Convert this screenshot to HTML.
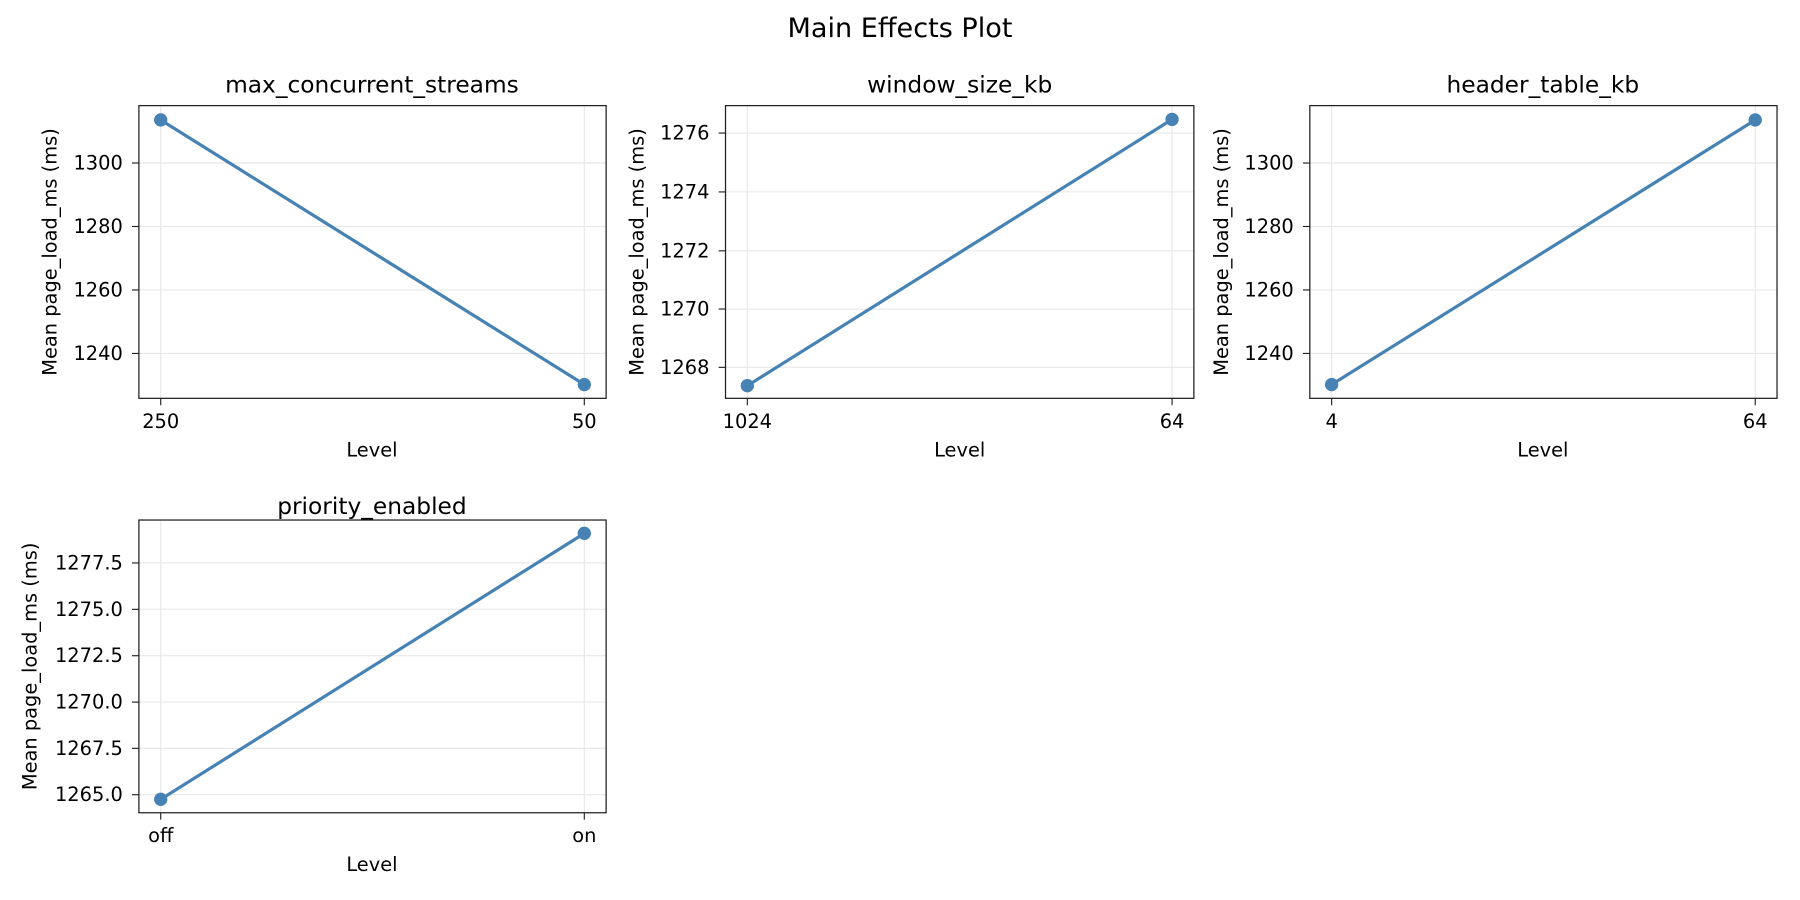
<!DOCTYPE html>
<html><head><meta charset="utf-8"><style>
html,body{margin:0;padding:0;background:#fff;}
svg{display:block;}
text{font-family:"DejaVu Sans","Liberation Sans",sans-serif;fill:#000;}
.t{font-size:16.9px;}
.tt{font-size:20.3px;}
.g{stroke:#e8e8e8;stroke-width:1;}
.ax{fill:none;stroke:#222;stroke-width:1.1;}
.ln{stroke:#4682b4;stroke-width:2.8;fill:none;}
.mk{fill:#4682b4;}
.r{text-anchor:end;dominant-baseline:central;}
.c{text-anchor:middle;dominant-baseline:central;}
</style></head><body>
<svg width="1800" height="900" viewBox="0 0 1568 784" xmlns="http://www.w3.org/2000/svg">
<text x="784" y="25" class="c" style="font-size:23.6px">Main Effects Plot</text>

<!-- ax1 -->
<g>
<line class="g" x1="140" y1="92" x2="140" y2="347"/><line class="g" x1="509" y1="92" x2="509" y2="347"/>
<line class="g" x1="121" y1="142" x2="528" y2="142"/><line class="g" x1="121" y1="197.3" x2="528" y2="197.3"/>
<line class="g" x1="121" y1="252.6" x2="528" y2="252.6"/><line class="g" x1="121" y1="307.9" x2="528" y2="307.9"/>
<rect class="ax" x="121" y="92" width="407" height="255"/>
<g stroke="#222"><line x1="115" y1="142" x2="121" y2="142"/><line x1="115" y1="197.3" x2="121" y2="197.3"/><line x1="115" y1="252.6" x2="121" y2="252.6"/><line x1="115" y1="307.9" x2="121" y2="307.9"/><line x1="140" y1="347" x2="140" y2="353"/><line x1="509" y1="347" x2="509" y2="353"/></g>
<g class="t r"><text x="107" y="142">1300</text><text x="107" y="197.3">1280</text><text x="107" y="252.6">1260</text><text x="107" y="307.9">1240</text></g>
<g class="t c"><text x="140" y="367">250</text><text x="509" y="367">50</text></g>
<text x="324" y="392" class="t c">Level</text>
<text class="t c" transform="translate(43.5,219.5) rotate(-90)">Mean page_load_ms (ms)</text>
<text x="324" y="74" class="tt c">max_concurrent_streams</text>
<line class="ln" x1="140" y1="104.5" x2="509" y2="335"/><circle class="mk" cx="140" cy="104.5" r="5.8"/><circle class="mk" cx="509" cy="335" r="5.8"/>
</g>

<!-- ax2 -->
<g>
<line class="g" x1="651" y1="92" x2="651" y2="347"/><line class="g" x1="1021" y1="92" x2="1021" y2="347"/>
<line class="g" x1="632" y1="115.9" x2="1040" y2="115.9"/><line class="g" x1="632" y1="167.2" x2="1040" y2="167.2"/><line class="g" x1="632" y1="218.5" x2="1040" y2="218.5"/><line class="g" x1="632" y1="269.2" x2="1040" y2="269.2"/><line class="g" x1="632" y1="320" x2="1040" y2="320"/>
<rect class="ax" x="632" y="92" width="408" height="255"/>
<g stroke="#222"><line x1="626" y1="115.9" x2="632" y2="115.9"/><line x1="626" y1="167.2" x2="632" y2="167.2"/><line x1="626" y1="218.5" x2="632" y2="218.5"/><line x1="626" y1="269.2" x2="632" y2="269.2"/><line x1="626" y1="320" x2="632" y2="320"/><line x1="651" y1="347" x2="651" y2="353"/><line x1="1021" y1="347" x2="1021" y2="353"/></g>
<g class="t r"><text x="618" y="115.9">1276</text><text x="618" y="167.2">1274</text><text x="618" y="218.5">1272</text><text x="618" y="269.2">1270</text><text x="618" y="320">1268</text></g>
<g class="t c"><text x="651" y="367">1024</text><text x="1021" y="367">64</text></g>
<text x="836" y="392" class="t c">Level</text>
<text class="t c" transform="translate(555,219.5) rotate(-90)">Mean page_load_ms (ms)</text>
<text x="836" y="74" class="tt c">window_size_kb</text>
<line class="ln" x1="651" y1="336" x2="1021" y2="104"/><circle class="mk" cx="651" cy="336" r="5.8"/><circle class="mk" cx="1021" cy="104" r="5.8"/>
</g>

<!-- ax3 -->
<g>
<line class="g" x1="1160" y1="92" x2="1160" y2="347"/><line class="g" x1="1529" y1="92" x2="1529" y2="347"/>
<line class="g" x1="1141" y1="142" x2="1548" y2="142"/><line class="g" x1="1141" y1="197.3" x2="1548" y2="197.3"/><line class="g" x1="1141" y1="252.6" x2="1548" y2="252.6"/><line class="g" x1="1141" y1="307.9" x2="1548" y2="307.9"/>
<rect class="ax" x="1141" y="92" width="407" height="255"/>
<g stroke="#222"><line x1="1135" y1="142" x2="1141" y2="142"/><line x1="1135" y1="197.3" x2="1141" y2="197.3"/><line x1="1135" y1="252.6" x2="1141" y2="252.6"/><line x1="1135" y1="307.9" x2="1141" y2="307.9"/><line x1="1160" y1="347" x2="1160" y2="353"/><line x1="1529" y1="347" x2="1529" y2="353"/></g>
<g class="t r"><text x="1127" y="142">1300</text><text x="1127" y="197.3">1280</text><text x="1127" y="252.6">1260</text><text x="1127" y="307.9">1240</text></g>
<g class="t c"><text x="1160" y="367">4</text><text x="1529" y="367">64</text></g>
<text x="1344" y="392" class="t c">Level</text>
<text class="t c" transform="translate(1064,219.5) rotate(-90)">Mean page_load_ms (ms)</text>
<text x="1344" y="74" class="tt c">header_table_kb</text>
<line class="ln" x1="1160" y1="335" x2="1529" y2="104.5"/><circle class="mk" cx="1160" cy="335" r="5.8"/><circle class="mk" cx="1529" cy="104.5" r="5.8"/>
</g>

<!-- ax4 -->
<g>
<line class="g" x1="140" y1="453" x2="140" y2="708"/><line class="g" x1="509" y1="453" x2="509" y2="708"/>
<line class="g" x1="121" y1="490.4" x2="528" y2="490.4"/><line class="g" x1="121" y1="530.8" x2="528" y2="530.8"/><line class="g" x1="121" y1="571.2" x2="528" y2="571.2"/><line class="g" x1="121" y1="611.6" x2="528" y2="611.6"/><line class="g" x1="121" y1="651.9" x2="528" y2="651.9"/><line class="g" x1="121" y1="692.3" x2="528" y2="692.3"/>
<rect class="ax" x="121" y="453" width="407" height="255"/>
<g stroke="#222"><line x1="115" y1="490.4" x2="121" y2="490.4"/><line x1="115" y1="530.8" x2="121" y2="530.8"/><line x1="115" y1="571.2" x2="121" y2="571.2"/><line x1="115" y1="611.6" x2="121" y2="611.6"/><line x1="115" y1="651.9" x2="121" y2="651.9"/><line x1="115" y1="692.3" x2="121" y2="692.3"/><line x1="140" y1="708" x2="140" y2="714"/><line x1="509" y1="708" x2="509" y2="714"/></g>
<g class="t r"><text x="107" y="490.4">1277.5</text><text x="107" y="530.8">1275.0</text><text x="107" y="571.2">1272.5</text><text x="107" y="611.6">1270.0</text><text x="107" y="651.9">1267.5</text><text x="107" y="692.3">1265.0</text></g>
<g class="t c"><text x="140" y="728">off</text><text x="509" y="728">on</text></g>
<text x="324" y="753" class="t c">Level</text>
<text class="t c" transform="translate(26,580.5) rotate(-90)">Mean page_load_ms (ms)</text>
<text x="324" y="441" class="tt c">priority_enabled</text>
<line class="ln" x1="140" y1="696.3" x2="509" y2="464.6"/><circle class="mk" cx="140" cy="696.3" r="5.8"/><circle class="mk" cx="509" cy="464.6" r="5.8"/>
</g>
</svg>
</body></html>
